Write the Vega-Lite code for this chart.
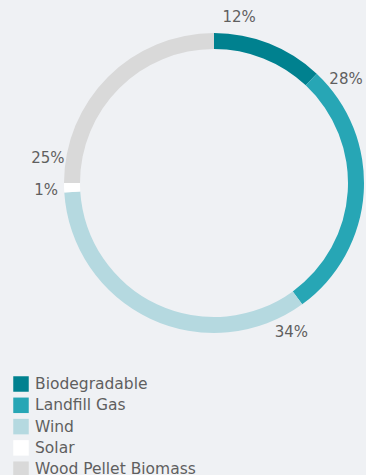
{
  "$schema": "https://vega.github.io/schema/vega-lite/v6.json",
  "width": 300,
  "height": 300,
  "autosize": "none",
  "padding": {"left": 64, "top": 33, "right": 2, "bottom": 142},
  "background": "#eff1f4",
  "config": {"view": {"stroke": null}, "font": "DejaVu Sans"},
  "data": {"values": [
    {"source": "Biodegradable", "share": 0.12},
    {"source": "Landfill Gas", "share": 0.28},
    {"source": "Wind", "share": 0.34},
    {"source": "Solar", "share": 0.01},
    {"source": "Wood Pellet Biomass", "share": 0.25}
  ]},
  "transform": [
    {"stack": "share", "groupby": [], "as": ["start", "end"]}
  ],
  "layer": [
    {
      "mark": {"type": "arc", "innerRadius": 134, "outerRadius": 150},
      "encoding": {
        "theta": {"field": "start", "type": "quantitative", "scale": {"domain": [0, 1]}, "stack": null},
        "theta2": {"field": "end"},
        "color": {
          "field": "source", "type": "nominal",
          "scale": {
            "domain": ["Biodegradable", "Landfill Gas", "Wind", "Solar", "Wood Pellet Biomass"],
            "range": ["#00818f", "#27a6b5", "#b5d9e0", "#ffffff", "#d9d9d9"]
          },
          "legend": {
            "title": null, "orient": "none", "legendX": -51, "legendY": 343,
            "symbolType": "square", "symbolSize": 240, "symbolStrokeWidth": 0,
            "labelFontSize": 15.5, "labelColor": "#5f5f5f", "labelFont": "DejaVu Sans",
            "labelLimit": 320,
            "rowPadding": 4.3, "symbolOpacity": 1, "labelOffset": 6
          }
        }
      }
    },
    {
      "transform": [{"filter": "datum.source !== 'Solar'"}],
      "mark": {"type": "text", "radius": 168, "thetaOffset": 0.15, "fontSize": 15, "color": "#5f5f5f", "align": "center", "baseline": "middle"},
      "encoding": {
        "theta": {"field": "start", "type": "quantitative", "scale": {"domain": [0, 1]}, "stack": null},
        "text": {"field": "share", "type": "quantitative", "format": ".0%"}
      }
    },
    {
      "transform": [{"filter": "datum.source === 'Solar'"}],
      "mark": {"type": "text", "radius": 168, "thetaOffset": 0.02, "fontSize": 15, "color": "#5f5f5f", "align": "center", "baseline": "middle"},
      "encoding": {
        "theta": {"field": "start", "type": "quantitative", "scale": {"domain": [0, 1]}, "stack": null},
        "text": {"field": "share", "type": "quantitative", "format": ".0%"}
      }
    }
  ]
}
